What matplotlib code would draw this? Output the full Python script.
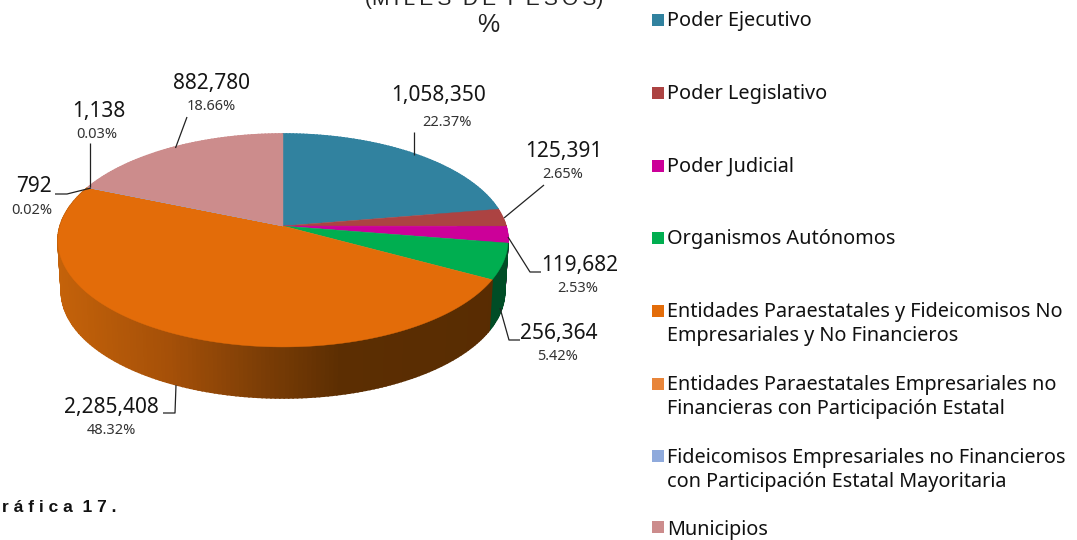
import numpy as np
import matplotlib
matplotlib.use("Agg")
import matplotlib.pyplot as plt
from matplotlib.patches import Polygon, Rectangle

categories = ["Poder Ejecutivo", "Poder Legislativo", "Poder Judicial", "Organismos Autónomos",
              "Entidades Paraestatales y Fideicomisos No\nEmpresariales y No Financieros",
              "Entidades Paraestatales Empresariales no\nFinancieras con Participación Estatal",
              "Fideicomisos Empresariales no Financieros\ncon Participación Estatal Mayoritaria",
              "Municipios"]
values = [1058350, 125391, 119682, 256364, 2285408, 792, 1138, 882780]
value_labels = ["1,058,350", "125,391", "119,682", "256,364", "2,285,408", "792", "1,138", "882,780"]
pct_labels = ["22.37%", "2.65%", "2.53%", "5.42%", "48.32%", "0.02%", "0.03%", "18.66%"]
colors = ["#31829F", "#AC4342", "#CC0099", "#00AE50", "#E36C09", "#E8853A", "#8FAADC", "#CC8C8C"]
side_dark = {3: "#004D26"}

val_xy = [(439, 95), (564, 152), (580, 266), (559, 334), (111, 407), (34, 187), (99, 112), (211, 83)]
pct_xy = [(447, 123), (563, 174), (578, 288), (558, 357), (111, 430), (32, 210), (97, 134), (211, 106)]
leaders = [[(414, 132), (414, 155)],
           [(544, 185), (504, 218)],
           [(508, 237), (530, 272), (541, 272)],
           [(500, 308), (509, 340), (520, 340)],
           [(176, 385), (175, 413), (163, 413)],
           [(55, 194), (67, 194), (91, 188)],
           [(90, 143), (90, 187)],
           [(187, 117), (175.5, 148)]]
legend_y = [20, 93, 166, 238, 311, 384, 456, 527]
legend_text_y = [21, 94, 167, 239, 324, 397, 470, 530]

W, H = 1077, 540
fig = plt.figure(figsize=(W / 100, H / 100), dpi=100)
ax = fig.add_axes([0, 0, 1, 1])
ax.set_xlim(0, W)
ax.set_ylim(H, 0)
ax.axis("off")

CX, CY, AX, BX, K = 283.0, 226.0, 222.9, 104.5, 0.136
DEPTH, SHRINK = 51.0, 0.985


def project(theta):
    u, v = np.sin(theta), np.cos(theta)
    d = 1 + K * v
    return CX + AX * u / d, CY - BX * v / d


def lower(x, y):
    return CX + (x - CX) * SHRINK, y + DEPTH


def orange_side(x):
    xs = [60, 170, 260, 340, 510]
    rs = [(196, 98, 10), (165, 80, 8), (125, 62, 6), (92, 46, 2), (88, 44, 2)]
    return tuple(np.interp(x, xs, [c[i] for c in rs]) / 255 for i in range(3))


fracs = np.array(values) / sum(values)
edges = np.concatenate([[0], np.cumsum(fracs)]) * 2 * np.pi

# side wall, back to front
quads = []
for i in range(len(values)):
    ts = np.arange(edges[i], edges[i + 1], np.radians(1.0))
    ts = np.append(ts, edges[i + 1])
    for a, b in zip(ts[:-1], ts[1:]):
        if i == 4:
            col = orange_side(project((a + b) / 2)[0])
        elif i == 3:
            col = side_dark[3]
        else:
            col = colors[i]
        quads.append((np.cos((a + b) / 2), a, b, col))
for _, a, b, col in sorted(quads, key=lambda q: -q[0]):
    p1, p2 = project(a), project(b)
    ax.add_patch(Polygon([p1, p2, lower(*p2), lower(*p1)], closed=True, fc=col, ec=col, lw=1.2))

# top face
for i in range(len(values)):
    ts = np.linspace(edges[i], edges[i + 1], max(3, int(fracs[i] * 400)))
    pts = [(CX, CY)] + [project(t) for t in ts]
    ax.add_patch(Polygon(pts, closed=True, fc=colors[i], ec=colors[i], lw=0.3))

# labels and leaders
NUM = "Noto Sans"
for i in range(len(values)):
    xs, ys = zip(*leaders[i])
    ax.plot(xs, ys, color="#222222", lw=0.9, solid_capstyle="butt")
    ax.text(*val_xy[i], value_labels[i], fontsize=15, family=NUM, color="#151515", ha="center", va="center")
    ax.text(*pct_xy[i], pct_labels[i], fontsize=10.5, family=NUM, color="#333333", ha="center", va="center")

# legend
for i, cat in enumerate(categories):
    ax.add_patch(Rectangle((652, legend_y[i] - 6), 12, 12, fc=colors[i], ec="none"))
    ax.text(667, legend_text_y[i], cat, fontsize=14.3, family=NUM, color="#111111",
            ha="left", va="center", linespacing=1.3)

# titles
ax.text(484, 5, "(M\u2009I\u2009L\u2009E\u2009S  D\u2009E  P\u2009E\u2009S\u2009O\u2009S)", fontsize=15,
        family="Liberation Sans", color="#222222", ha="center", va="baseline")
ax.text(488, 25, "%", fontsize=18, family="Liberation Sans", color="#222222", ha="center", va="center")
ax.text(2, 508, "r á f i c a  1 7 .", fontsize=12.5, family="Liberation Sans", weight="bold",
        color="#111111", ha="left", va="center")

fig.savefig("out.png", dpi=100)
